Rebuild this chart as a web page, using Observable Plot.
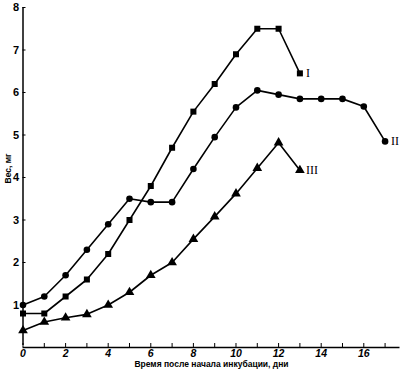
<!DOCTYPE html>
<html><head><meta charset="utf-8">
<script src="https://cdn.jsdelivr.net/npm/d3@7"></script>
<script src="https://cdn.jsdelivr.net/npm/@observablehq/plot@0.6"></script>
<style>body{margin:0;background:#fff}</style>
</head><body><div id="chart"></div>
<script>
const daysI = [0,1,2,3,4,5,6,7,8,9,10,11,12,13];
const weightI = [0.8,0.8,1.2,1.6,2.2,3.0,3.8,4.7,5.55,6.2,6.9,7.5,7.5,6.45];
const daysII = [0,1,2,3,4,5,6,7,8,9,10,11,12,13,14,15,16,17];
const weightII = [1.0,1.2,1.7,2.3,2.9,3.5,3.42,3.42,4.2,4.95,5.65,6.05,5.95,5.85,5.85,5.85,5.67,4.85];
const daysIII = [0,1,2,3,4,5,6,7,8,9,10,11,12,13];
const weightIII = [0.4,0.6,0.7,0.78,1.0,1.3,1.7,2.0,2.55,3.08,3.62,4.22,4.82,4.17];
const seriesNames = ["I","II","III"];
const xTickMarks = d3.range(0,18);
const xTickLabels = [0,2,4,6,8,10,12,14,16];
const yTicks = [1,2,3,4,5,6,7,8];
const xTitle = "Время после начала инкубации, дни";
const yTitle = "Вес, мг";

const mk = (days, w) => days.map((d,i)=>({day:d, w:w[i]}));
const sI = mk(daysI, weightI), sII = mk(daysII, weightII), sIII = mk(daysIII, weightIII);
const ends = [
  {name: seriesNames[0], ...sI[sI.length-1]},
  {name: seriesNames[1], ...sII[sII.length-1]},
  {name: seriesNames[2], ...sIII[sIII.length-1]}
];

const chart = Plot.plot({
  width: 400, height: 373,
  marginLeft: 22.5, marginRight: 0.5, marginTop: 7, marginBottom: 26,
  style: {fontFamily: "Liberation Sans, Arial, sans-serif", background: "#fff"},
  x: {domain: [0, 17.7]},
  y: {domain: [0, 8]},
  marks: [
    Plot.ruleX([0], {y1: 0, y2: 8, insetTop: -2, stroke: "#000", strokeWidth: 1.5}),
    Plot.ruleY([0], {stroke: "#000", strokeWidth: 1.5}),
    Plot.ruleX(xTickMarks, {y1: 0, y2: 0, insetTop: -4, stroke: "#000"}),
    Plot.ruleY(yTicks, {x1: 0, x2: 0, insetRight: -3, stroke: "#000"}),
    Plot.axisX({ticks: xTickLabels, tickSize: 0, tickPadding: 2, label: null, fontSize: 10.5, fontWeight: "bold", fontStyle: "italic", fill: "#000"}),
    Plot.axisY({ticks: yTicks, tickSize: 0, tickPadding: 4, label: null, fontSize: 11, fontWeight: "bold", fill: "#000"}),
    Plot.line(sI, {x: "day", y: "w", stroke: "#000", strokeWidth: 1.6}),
    Plot.line(sII, {x: "day", y: "w", stroke: "#000", strokeWidth: 1.6}),
    Plot.line(sIII, {x: "day", y: "w", stroke: "#000", strokeWidth: 1.6}),
    Plot.dot(sI, {x: "day", y: "w", symbol: "square", r: 3.4, fill: "#000"}),
    Plot.dot(sII, {x: "day", y: "w", symbol: "circle", r: 3.3, fill: "#000"}),
    Plot.dot(sIII, {x: "day", y: "w", symbol: "triangle", r: 3.6, fill: "#000"}),
    Plot.text(ends, {x: "day", y: "w", text: "name", dx: 6, textAnchor: "start", fontFamily: "Liberation Serif, Times New Roman, serif", fontSize: 12, fill: "#000"}),
    Plot.text([yTitle], {frameAnchor: "left", dx: -15, dy: 6, rotate: -90, fontSize: 8.5, fontWeight: "bold", fill: "#000"}),
    Plot.text([xTitle], {frameAnchor: "bottom", dy: 19, fontSize: 8.5, fontWeight: "bold", fill: "#000"})
  ]
});
document.getElementById("chart").append(chart);
</script></body></html>
